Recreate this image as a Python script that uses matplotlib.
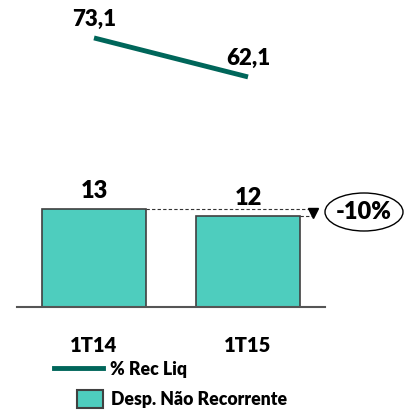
import matplotlib.pyplot as plt
from matplotlib.lines import Line2D
from matplotlib.patches import Patch, Ellipse

plt.rcParams['font.family'] = ['Lato', 'DejaVu Sans']
plt.rcParams['font.weight'] = 'heavy'
W = 'heavy'

# data
categories = ['1T14', '1T15']
desp_nao_rec = [13, 12]
pct_rec_liq = [73.1, 62.1]
pct_labels = ['73,1', '62,1']
variacao = '-10%'

bar_color = '#4ECDBE'
line_color = '#00665A'
edge_color = '#404040'

fig = plt.figure(figsize=(4.14, 4.12), dpi=100)
ax = fig.add_axes([17 / 414, 105 / 412, 308 / 414, 307 / 412])
x = list(range(len(categories)))

bars = ax.bar(x, desp_nao_rec, width=0.67, color=bar_color,
              edgecolor=edge_color, linewidth=1.2, zorder=2)
ax.set_xlim(-0.5, 1.5)
ax.set_ylim(0, 40.7)
for xi, v in zip(x, desp_nao_rec):
    ax.annotate(str(v), (xi, v), xytext=(0, 13), textcoords='offset points',
                ha='center', va='center', fontsize=17, fontweight=W)

for s in ['top', 'right', 'left']:
    ax.spines[s].set_visible(False)
ax.spines['bottom'].set_color('#555555')
ax.spines['bottom'].set_linewidth(1.5)
ax.set_yticks([])
ax.set_xticks(x)
ax.set_xticklabels(categories, fontsize=14.5, fontweight=W)
ax.tick_params(axis='x', length=0, pad=21)

# variation marker
right = 1.42
half = 0.67 / 2
ax.plot([x[0] + half, right], [desp_nao_rec[0]] * 2, ls=(0, (3, 2)), color='#333333', lw=0.8)
ax.plot([x[1] + half, right], [desp_nao_rec[1]] * 2, ls=(0, (3, 2)), color='#333333', lw=0.8)
ax.plot([right], [(desp_nao_rec[0] + desp_nao_rec[1]) / 2], marker='v', color='black',
        markersize=7, clip_on=False)
fig.patches.append(Ellipse((364 / 414, 200 / 412), 78 / 414, 38 / 412, transform=fig.transFigure,
                           facecolor='white', edgecolor='black', lw=1.0))
fig.text(364 / 414, 200 / 412, variacao, ha='center', va='center', fontsize=17, fontweight=W)

# line on secondary axis
ax2 = ax.twinx()
ax2.set_ylim(-2.8, 83.8)
ax2.axis('off')
ax2.plot(x, pct_rec_liq, color=line_color, lw=3.5, solid_capstyle='butt')
for xi, v, lab in zip(x, pct_rec_liq, pct_labels):
    ax2.annotate(lab, (xi, v), xytext=(0, 13), textcoords='offset points',
                 ha='center', va='center', fontsize=16, fontweight=W)

# legends
leg1 = fig.legend(handles=[Line2D([], [], color=line_color, lw=3.5)], labels=['% Rec Liq'],
                  loc='center left', bbox_to_anchor=(54 / 414, 43 / 412), frameon=False,
                  borderpad=0, borderaxespad=0, handlelength=2.75, handletextpad=0.45,
                  prop={'size': 12.7, 'weight': W})
leg2 = fig.legend(handles=[Patch(facecolor=bar_color, edgecolor=edge_color, lw=1.5)],
                  labels=['Desp. Não Recorrente'],
                  loc='center left', bbox_to_anchor=(77 / 414, 13 / 412), frameon=False,
                  borderpad=0, borderaxespad=0, handlelength=1.45, handleheight=1.2,
                  handletextpad=0.45, prop={'size': 12.7, 'weight': W})

fig.savefig('out.png', dpi=100)
